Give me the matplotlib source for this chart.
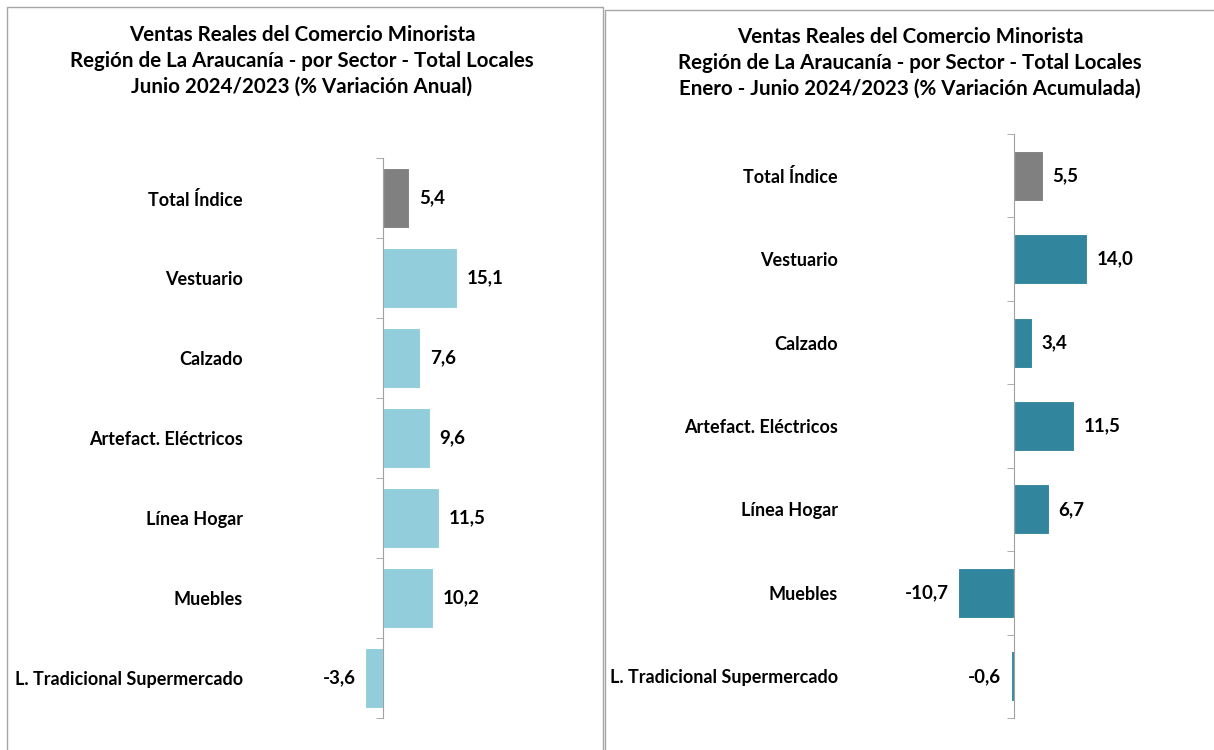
import matplotlib
matplotlib.use("Agg")
import matplotlib.pyplot as plt
from matplotlib.patches import Rectangle

categories = ["Total Índice", "Vestuario", "Calzado", "Artefact. Eléctricos",
              "Línea Hogar", "Muebles", "L. Tradicional Supermercado"]
anual = [5.4, 15.1, 7.6, 9.6, 11.5, 10.2, -3.6]
acumulada = [5.5, 14.0, 3.4, 11.5, 6.7, -10.7, -0.6]

title_left = ["Ventas Reales del Comercio Minorista",
              "Región de La Araucanía - por Sector - Total Locales",
              "Junio 2024/2023 (% Variación Anual)"]
title_right = ["Ventas Reales del Comercio Minorista",
               "Región de La Araucanía - por Sector - Total Locales",
               "Enero - Junio 2024/2023 (% Variación Acumulada)"]

W, H = 1214, 750
DPI = 100
fig = plt.figure(figsize=(W / DPI, H / DPI), dpi=DPI)
FONT = "Lato"

# panel borders
for (x0, y0, x1, y1) in [(7, 7, 603, 760), (605, 10, 1220, 760)]:
    fig.patches.append(Rectangle((x0 / W, 1 - y1 / H), (x1 - x0) / W, (y1 - y0) / H,
                                 transform=fig.transFigure, fill=False,
                                 edgecolor="#a6a6a6", linewidth=1.0))


def panel(values, colors, zero_px, scale, top_px, bot_px, left_px, right_px,
          bar_h, pad_px, titles, title_cx, title_ys):
    ax = fig.add_axes([left_px / W, 1 - bot_px / H, (right_px - left_px) / W,
                       (bot_px - top_px) / H])
    ax.set_xlim((left_px - zero_px) / scale, (right_px - zero_px) / scale)
    n = len(values)
    ax.set_ylim(n - 0.5, -0.5)
    ypos = list(range(n))
    ax.barh(ypos, values, height=bar_h, color=colors, edgecolor="white", linewidth=0.8)
    for s in ["top", "right", "bottom"]:
        ax.spines[s].set_visible(False)
    ax.spines["left"].set_position(("data", 0))
    ax.spines["left"].set_color("#a0a0a0")
    ax.set_xticks([])
    ax.set_yticks(ypos)
    ax.set_yticklabels(categories, fontfamily=FONT, fontweight="bold", fontsize=13)
    ax.tick_params(axis="y", which="major", length=0, pad=pad_px * 72 / DPI)
    ax.set_yticks([i - 0.5 for i in range(n + 1)], minor=True)
    ax.tick_params(axis="y", which="minor", length=5, color="#a0a0a0", direction="out")
    for y, v in zip(ypos, values):
        lbl = f"{v:.1f}".replace(".", ",")
        off = 6.8 if v >= 0 else -6.8
        ax.annotate(lbl, (v, y), xytext=(off, 0), textcoords="offset points",
                    ha="left" if v >= 0 else "right", va="center", fontfamily=FONT,
                    fontweight="bold", fontsize=13.5)
    for t, ty in zip(titles, title_ys):
        fig.text(title_cx / W, 1 - ty / H, t, ha="center", va="center",
                 fontfamily=FONT, fontweight="bold", fontsize=14.8)
    return ax


gray = "#808080"
panel(anual, [gray] + ["#92CDDC"] * 6, 383, 4.9, 158, 718, 300, 580, 0.75, 140,
      title_left, 302, [35, 61, 87])
panel(acumulada, [gray] + ["#31859C"] * 6, 1014, 5.2, 134, 718, 900, 1200, 0.6, 176,
      title_right, 910, [37, 63, 89])

fig.savefig("out.png", dpi=DPI)
